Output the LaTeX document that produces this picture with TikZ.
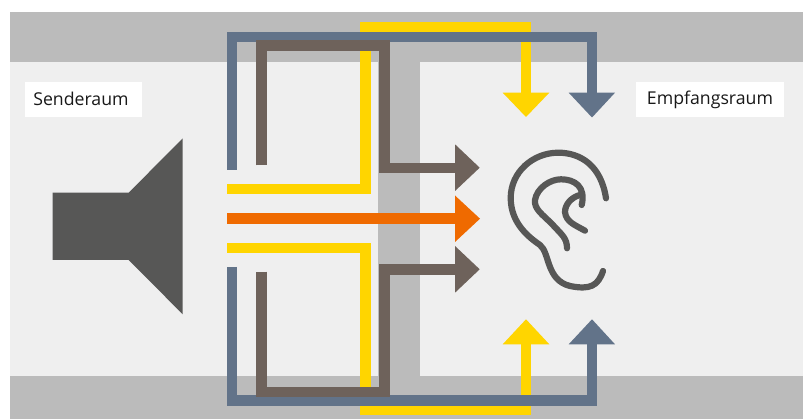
\documentclass[tikz,border=0pt]{standalone}
\usepackage{fontspec}
\setmainfont{Open Sans}
\definecolor{wallgrey}{HTML}{BBBBBB}
\definecolor{roomgrey}{HTML}{EFEFEF}
\definecolor{pathblue}{HTML}{627389}
\definecolor{pathbrown}{HTML}{6E625B}
\definecolor{pathyellow}{HTML}{FFD500}
\definecolor{pathorange}{HTML}{EF6A00}
\definecolor{darkgrey}{HTML}{575756}
\tikzset{
  x=1pt,y=-1pt,
  flow/.style={line width=10.6pt,line cap=butt,line join=miter},
  earline/.style={draw=darkgrey,line width=6.2pt,line cap=round,line join=round},
  roomlabel/.style={fill=white,inner sep=0pt,minimum height=35pt,text=black!90,font=\fontsize{17.7}{20}\selectfont}
}
\begin{document}
\begin{tikzpicture}
\useasboundingbox (0,0) rectangle (803,419);
% rooms and walls
\fill[roomgrey] (10,62) rectangle (803,376);
\fill[wallgrey] (10,12) rectangle (803,62);
\fill[wallgrey] (10,376) rectangle (803,419);
\fill[wallgrey] (378,62) rectangle (420,376);
% labels
\node[roomlabel,minimum width=117pt] (sender) at (83.5,99.5) {\hspace*{-5pt}\raisebox{1pt}{Senderaum}};
\node[roomlabel,minimum width=148pt] (empf) at (710,99.5) {\raisebox{1pt}{Empfangsraum}};
% loudspeaker
\fill[darkgrey] (52.7,192.7) -- (128.7,192.7) -- (182.7,138.3) -- (182.7,314.3) -- (128.7,260) -- (52.7,260) -- cycle;
% yellow
\draw[flow,pathyellow] (227,189) -- (365.7,189) -- (365.7,27) -- (526,27) -- (526,93);
\fill[pathyellow] (502.7,92.7) -- (549.3,92.7) -- (526,117) -- cycle;
\draw[flow,pathyellow] (227,248) -- (365.7,248) -- (365.7,409.5) -- (526,409.5) -- (526,344);
\fill[pathyellow] (502.7,344.3) -- (549.3,344.3) -- (526,319.3) -- cycle;
% blue
\draw[flow,pathblue] (232,170) -- (232,37) -- (592,37) -- (592,93);
\fill[pathblue] (568.7,92.7) -- (615,92.7) -- (592,117.5) -- cycle;
\draw[flow,pathblue] (232,267) -- (232,400.5) -- (592,400.5) -- (592,344);
\fill[pathblue] (568.7,344.3) -- (615,344.3) -- (592,319.3) -- cycle;
% brown
\draw[flow,pathbrown] (261.3,165.3) -- (261.3,45.3) -- (384.3,45.3) -- (384.3,168) -- (455.5,168);
\fill[pathbrown] (455,144.3) -- (479.7,167.7) -- (455,191) -- cycle;
\draw[flow,pathbrown] (261.3,271.7) -- (261.3,392) -- (384.3,392) -- (384.3,269.7) -- (455.5,269.7);
\fill[pathbrown] (455,246) -- (479.7,269.3) -- (455,292.7) -- cycle;
% orange
\draw[flow,pathorange] (227,218.7) -- (455.5,218.7);
\fill[pathorange] (455,195.5) -- (480,218.7) -- (455,242) -- cycle;
% ear
\draw[earline] (606,198.3) .. controls (601,165) and (580,152.7) .. (558.3,152.7)
  .. controls (533,152.7) and (510.7,172) .. (510.7,198)
  .. controls (510.7,224) and (530,238) .. (540,245)
  .. controls (550,253) and (546,280) .. (570,286)
  .. controls (590,290) and (598,286) .. (603,271);
\draw[earline] (567,248.3) .. controls (567,238) and (562,235) .. (552,224)
  .. controls (542,214) and (534,209) .. (535,200)
  .. controls (537,188) and (550,179.3) .. (561,179.3)
  .. controls (575,179.3) and (586,187) .. (581.7,205);
\draw[earline] (585,230.7) .. controls (575,225) and (566,222) .. (565,212)
  .. controls (565,204) and (572,197) .. (580,195);
\end{tikzpicture}
\end{document}
